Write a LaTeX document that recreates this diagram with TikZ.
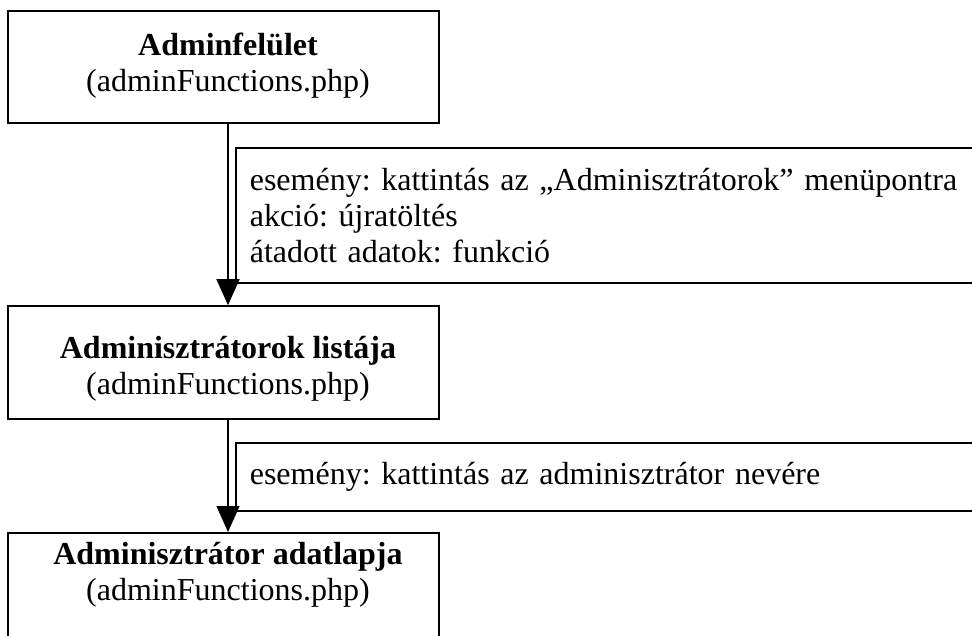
\documentclass[tikz,border=0pt]{standalone}
\usepackage{fontspec}
\setmainfont{Liberation Serif}
\usetikzlibrary{arrows.meta}
\frenchspacing
\begin{document}
\begin{tikzpicture}[x=1pt,y=-1pt,
  frame/.style={draw=black, line width=1.6pt, inner sep=0pt, minimum width=431pt},
  title/.style={align=center, inner sep=0pt, font=\fontsize{32}{36}\selectfont},
  note/.style={draw=black, line width=1.6pt, anchor=north west, align=left,
    text width=740pt, inner xsep=14pt, inner ysep=0pt,
    font=\fontsize{32}{36}\selectfont},
  flow/.style={line width=1.4pt, -{Triangle[width=23pt,length=26pt]}}]
\useasboundingbox (0,0) rectangle (972,636);
\clip (0,0) rectangle (972,636);

% page boxes
\node[frame, minimum height=112pt] (box1) at (223.5,67) {};
\node[frame, minimum height=113pt] (box2) at (223.5,362.5) {};
\node[frame, minimum height=140pt, anchor=north] (box3) at (223.5,532) {};

\node[title] (t1) at (228,66) {\textbf{Adminfelület}\\(adminFunctions.php)};
\node[title] (t2) at (228,369) {\textbf{Adminisztrátorok listája}\\(adminFunctions.php)};
\node[title] (t3) at (228,575) {\textbf{Adminisztrátor adatlapja}\\(adminFunctions.php)};

% transition notes
\node[note, minimum height=135pt] (ev1) at (235,147)
  {esemény: kattintás az „Adminisztrátorok” menüpontra\\
   akció: újratöltés\\
   átadott adatok: funkció};
\node[note, minimum height=68pt] (ev2) at (235,442)
  {esemény: kattintás az adminisztrátor nevére};

% transitions
\draw[flow] (box1.south -| t1) -- (box2.north -| t1);
\draw[flow] (box2.south -| t2) -- (box3.north -| t2);
\end{tikzpicture}
\end{document}
